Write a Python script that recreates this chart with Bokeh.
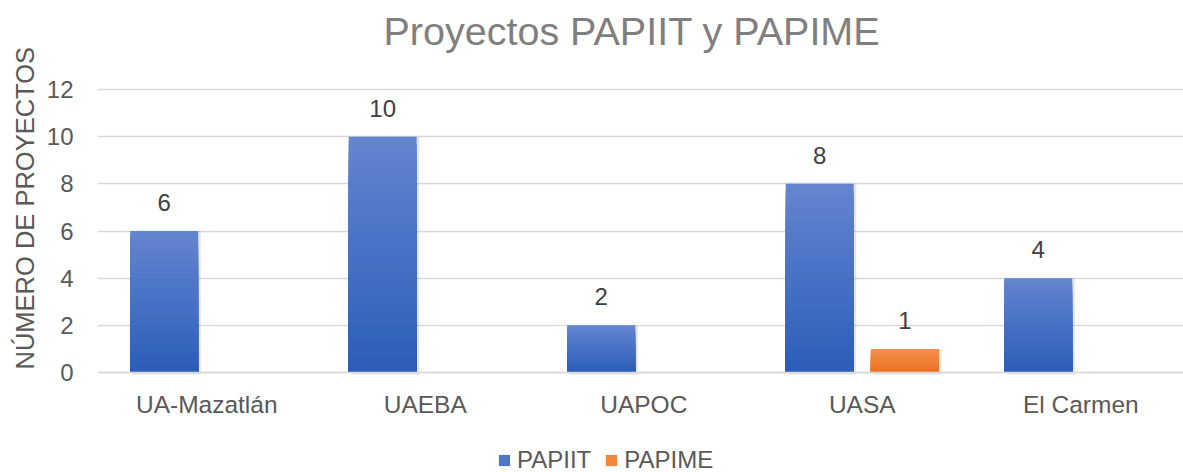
from bokeh.plotting import figure
from bokeh.models import (ColumnDataSource, Range1d, FixedTicker, LabelSet,
                          Label, Legend, LegendItem, Title)
from bokeh.core.properties import value
from bokeh.embed import file_html
from bokeh.resources import INLINE

# ---- data ----
chart_title = "Proyectos PAPIIT y PAPIME"
y_axis_title = "NÚMERO DE PROYECTOS"
categories = ["UA-Mazatlán", "UAEBA", "UAPOC", "UASA", "El Carmen"]
series_names = ["PAPIIT", "PAPIME"]
papiit = [6, 10, 2, 8, 4]
papime = [0, 0, 0, 1, 0]
y_ticks = [0, 2, 4, 6, 8, 10, 12]

# ---- style ----
FONT = "Liberation Sans"
AXIS_TXT = "#595959"
GRID = "#d9d9d9"
grad = {
    "PAPIIT": ((0x62, 0x85, 0xCF), (0x2D, 0x5D, 0xB9)),
    "PAPIME": ((0xF4, 0x90, 0x4D), (0xEC, 0x70, 0x22)),
}
offsets = {"PAPIIT": -0.195, "PAPIME": 0.195}
BAR_W = 0.311
N_SLICES = 30

W, H = 1183, 472
# plot area spans the full height: the x axis is fixed at 0, the title and
# the legend sit in the blank space above/below the gridded region
p = figure(width=W, height=H, output_backend="svg", toolbar_location=None,
           title=None,
           x_range=Range1d(-0.5, 4.47), y_range=Range1d(-4.24, 15.774),
           min_border_left=97, min_border_right=0, min_border_top=0,
           min_border_bottom=0, background_fill_color="white",
           border_fill_color="white")
p.outline_line_color = None

# chart title (screen units, relative to the plot area)
p.add_layout(Label(x=286, y=442, x_units="screen", y_units="screen",
                   text=chart_title, text_align="left",
                   text_baseline="alphabetic", text_font=FONT,
                   text_font_size="39.5px", text_color="#7f7f7f"))

# y axis title (left-side title so it can be shifted)
p.add_layout(Title(text=y_axis_title, align="left", offset=103,
                   text_font=FONT, text_font_size="25.5px",
                   text_font_style="normal", text_color=AXIS_TXT), "left")

# axes
p.xaxis.fixed_location = 0
p.xaxis.ticker = FixedTicker(ticks=list(range(len(categories))))
p.xaxis.major_label_overrides = {i: c for i, c in enumerate(categories)}
p.xaxis.major_label_text_font = FONT
p.xaxis.major_label_text_font_size = "24.5px"
p.xaxis.major_label_text_color = AXIS_TXT
p.xaxis.major_label_standoff = 12
p.xaxis.major_tick_line_color = None
p.xaxis.minor_tick_line_color = None
p.xaxis.axis_line_color = GRID
p.xaxis.axis_line_width = 1.5

p.yaxis.ticker = FixedTicker(ticks=y_ticks)
p.yaxis.major_label_text_font = FONT
p.yaxis.major_label_text_font_size = "24px"
p.yaxis.major_label_text_color = AXIS_TXT
p.yaxis.major_label_standoff = 18
p.yaxis.major_tick_line_color = None
p.yaxis.minor_tick_line_color = None
p.yaxis.axis_line_color = None

p.xgrid.grid_line_color = None
p.ygrid.ticker = FixedTicker(ticks=y_ticks)
p.ygrid.grid_line_color = GRID
p.ygrid.grid_line_width = 1.5


def lerp(c0, c1, t):
    return "#%02x%02x%02x" % tuple(int(round(a + (b - a) * t)) for a, b in zip(c0, c1))


legend_items = []
for name, vals in zip(series_names, [papiit, papime]):
    xs = [i + offsets[name] for i, v in enumerate(vals) if v > 0]
    vs = [v for v in vals if v > 0]
    # soft shadow
    shadow = ColumnDataSource(dict(x=[x + 0.012 for x in xs], top=vs))
    p.vbar(x="x", top="top", bottom=-0.08, width=BAR_W, source=shadow,
           fill_color="black", fill_alpha=0.10, line_color=None)
    # gradient bar built from overlapping slices
    c_top, c_bot = grad[name]
    sx, stop, scol = [], [], []
    for k in range(N_SLICES):
        col = lerp(c_top, c_bot, k / (N_SLICES - 1))
        for x, v in zip(xs, vs):
            sx.append(x)
            stop.append(v * (N_SLICES - k) / N_SLICES)
            scol.append(col)
    src = ColumnDataSource(dict(x=sx, top=stop, color=scol))
    r = p.vbar(x="x", top="top", bottom=0, width=BAR_W, source=src,
               fill_color="color", line_color=None)
    legend_items.append(LegendItem(label=name, renderers=[r],
                                   index=(N_SLICES // 3) * len(xs)))
    lab = ColumnDataSource(dict(x=xs, y=vs, t=[str(v) for v in vs]))
    p.add_layout(LabelSet(x="x", y="y", text="t", source=lab,
                          text_align="center", text_baseline="bottom",
                          y_offset=20, text_font=value(FONT),
                          text_font_size="24px", text_color="#404040"))

legend = Legend(items=legend_items, location=(400, -2),
                orientation="horizontal", padding=0, margin=0,
                spacing=13, glyph_width=14, glyph_height=14,
                label_standoff=6, label_text_font=FONT,
                label_text_font_size="24px", label_text_color=AXIS_TXT,
                border_line_color=None, background_fill_alpha=0)
p.add_layout(legend)

open("out.html", "w").write(file_html(p, INLINE))
